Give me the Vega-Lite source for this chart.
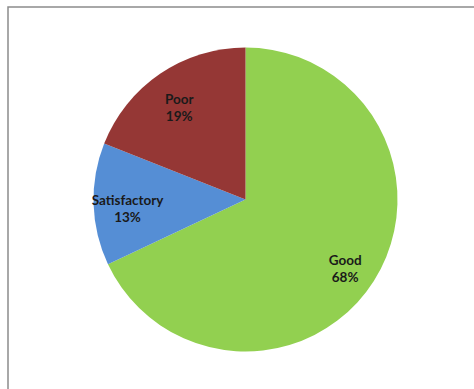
{
  "$schema": "https://vega.github.io/schema/vega-lite/v6.json",
  "autosize": "none",
  "padding": {"left": 8, "top": 7, "right": 0, "bottom": 0},
  "width": 475,
  "height": 385,
  "background": "white",
  "config": {"view": {"stroke": null}},
  "data": {"values": [
    {"category": "Good", "percent": 68, "rank": 1, "label": ["Good", "68%"]},
    {"category": "Satisfactory", "percent": 13, "rank": 2, "label": ["Satisfactory", "13%"]},
    {"category": "Poor", "percent": 19, "rank": 3, "label": ["Poor", "19%"]}
  ]},
  "layer": [
    {
      "data": {"values": [{"frame": 1}]},
      "mark": {"type": "rect", "fill": "white", "stroke": "#8c8c8c", "strokeWidth": 1.5},
      "encoding": {}
    },
    {
      "mark": {"type": "arc", "outerRadius": 152},
      "encoding": {
        "theta": {"field": "percent", "type": "quantitative", "stack": true},
        "order": {"field": "rank", "type": "quantitative"},
        "color": {"field": "category", "type": "nominal", "legend": null,
          "scale": {"domain": ["Good", "Satisfactory", "Poor"], "range": ["#92d050", "#558ed5", "#953735"]}}
      }
    },
    {
      "mark": {"type": "text", "radius": 118, "dy": -2, "font": "Lato", "fontWeight": "bold", "fontSize": 13.5, "fill": "#1a1a1a", "lineHeight": 17, "baseline": "middle", "align": "center"},
      "encoding": {
        "theta": {"field": "percent", "type": "quantitative", "stack": true},
        "order": {"field": "rank", "type": "quantitative"},
        "text": {"field": "label"}
      }
    }
  ]
}
